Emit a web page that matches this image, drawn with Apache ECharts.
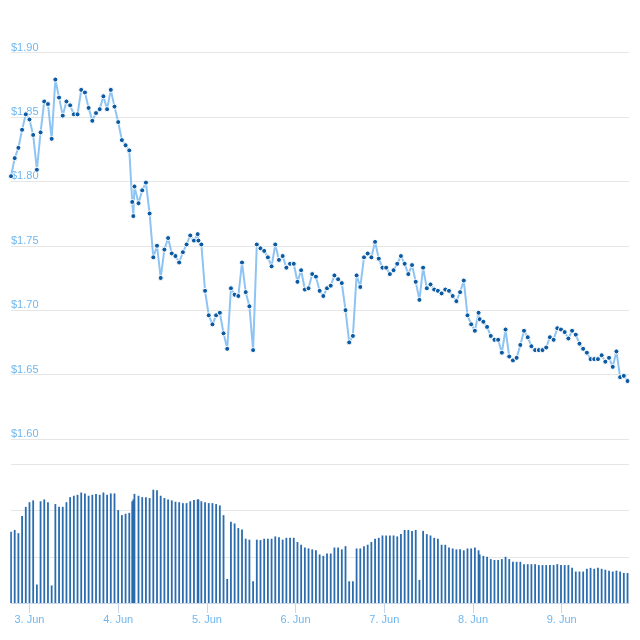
<!DOCTYPE html>
<html>
<head>
<meta charset="utf-8">
<title>Price chart</title>
<script src="https://cdn.jsdelivr.net/npm/echarts@6/dist/echarts.min.js"></script>
<style>
  html, body { margin: 0; padding: 0; background: #fff; }
  #chart { width: 640px; height: 640px; }
</style>
</head>
<body>
<div id="chart"></div>
<script>
// time of each point, in hours counted from 3 Jun 00:00
var hours = [
    -5, -4, -3, -2, -1, 0, 1, 2, 3, 4,
    5, 6, 7, 8, 9, 10, 11, 12, 13, 14,
    15, 16, 17, 18, 19, 20, 21, 22, 23, 24,
    25, 26, 27, 27.8, 28.1, 28.4, 29.5, 30.5, 31.5, 32.5,
    33.5, 34.5, 35.5, 36.5, 37.5, 38.5, 39.5, 40.5, 41.5, 42.5,
    43.5, 44.5, 45.5, 45.7, 46.5, 47.5, 48.5, 49.5, 50.5, 51.5,
    52.5, 53.5, 54.5, 55.5, 56.5, 57.5, 58.5, 59.5, 60.5, 61.5,
    62.5, 63.5, 64.5, 65.5, 66.5, 67.5, 68.5, 69.5, 70.5, 71.5,
    72.5, 73.5, 74.5, 75.5, 76.5, 77.5, 78.5, 79.5, 80.5, 81.5,
    82.5, 83.5, 84.5, 85.5, 86.5, 87.5, 88.5, 89.5, 90.5, 91.5,
    92.5, 93.5, 94.5, 95.5, 96.5, 97.5, 98.5, 99.5, 100.5, 101.5,
    102.5, 103.5, 104.5, 105.5, 106.5, 107.5, 108.5, 109.5, 110.5, 111.5,
    112.5, 113.5, 114.5, 115.5, 116.5, 117.5, 118.5, 119.5, 120.5, 121.5,
    121.8, 122.8, 123.8, 124.8, 125.8, 126.8, 127.8, 128.8, 129.8, 130.8,
    131.8, 132.8, 133.8, 134.8, 135.8, 136.8, 137.8, 138.8, 139.8, 140.8,
    141.8, 142.8, 143.8, 144.8, 145.8, 146.8, 147.8, 148.8, 149.8, 150.8,
    151.8, 152.8, 153.8, 154.8, 155.8, 156.8, 157.8, 158.8, 159.8, 160.8,
    161.8
];

// price in dollars
var prices = [
    1.804, 1.818, 1.826, 1.840, 1.852, 1.848, 1.836, 1.809, 1.838, 1.862,
    1.860, 1.833, 1.879, 1.865, 1.851, 1.862, 1.859, 1.852, 1.852, 1.871,
    1.869, 1.857, 1.847, 1.853, 1.856, 1.866, 1.856, 1.871, 1.858, 1.846,
    1.832, 1.828, 1.824, 1.784, 1.773, 1.796, 1.783, 1.793, 1.799, 1.775,
    1.741, 1.750, 1.725, 1.747, 1.756, 1.744, 1.742, 1.737, 1.745, 1.751,
    1.758, 1.754, 1.759, 1.754, 1.751, 1.715, 1.696, 1.689, 1.696, 1.698,
    1.682, 1.670, 1.717, 1.712, 1.711, 1.737, 1.714, 1.703, 1.669, 1.751,
    1.748, 1.746, 1.741, 1.734, 1.751, 1.739, 1.742, 1.733, 1.736, 1.736,
    1.722, 1.731, 1.716, 1.717, 1.728, 1.726, 1.715, 1.711, 1.717, 1.719,
    1.727, 1.724, 1.721, 1.700, 1.675, 1.680, 1.727, 1.718, 1.741, 1.744,
    1.741, 1.753, 1.740, 1.733, 1.733, 1.728, 1.731, 1.736, 1.742, 1.736,
    1.728, 1.735, 1.722, 1.708, 1.733, 1.717, 1.720, 1.716, 1.715, 1.713,
    1.716, 1.715, 1.711, 1.707, 1.714, 1.723, 1.696, 1.689, 1.684, 1.698,
    1.693, 1.691, 1.687, 1.680, 1.677, 1.677, 1.667, 1.685, 1.664, 1.661,
    1.663, 1.673, 1.684, 1.679, 1.672, 1.669, 1.669, 1.669, 1.671, 1.679,
    1.677, 1.686, 1.685, 1.683, 1.678, 1.684, 1.681, 1.674, 1.670, 1.667,
    1.662, 1.662, 1.662, 1.665, 1.660, 1.663, 1.656, 1.668, 1.648, 1.649,
    1.645
];

// traded volume (relative units)
var volumes = [
    154, 158, 151, 188, 208, 218, 222, 40, 220, 224,
    218, 38, 214, 208, 208, 218, 229, 232, 234, 239,
    237, 232, 234, 236, 234, 239, 234, 237, 237, 201,
    190, 193, 195, 220, 224, 236, 232, 229, 229, 227,
    245, 244, 232, 227, 224, 222, 219, 218, 216, 216,
    220, 223, 224, 224, 220, 218, 216, 216, 214, 211,
    190, 52, 176, 172, 162, 159, 139, 137, 47, 137,
    136, 139, 139, 139, 144, 142, 137, 141, 141, 141,
    132, 126, 120, 118, 116, 114, 105, 102, 107, 107,
    120, 120, 116, 123, 47, 47, 118, 118, 123, 126,
    132, 139, 141, 146, 146, 146, 146, 144, 149, 158,
    158, 156, 158, 50, 156, 149, 146, 141, 139, 126,
    126, 120, 118, 116, 116, 114, 118, 118, 120, 114,
    105, 102, 100, 95, 93, 93, 95, 100, 95, 89,
    89, 89, 84, 84, 84, 84, 82, 82, 82, 82,
    82, 84, 82, 82, 82, 76, 68, 68, 68, 74,
    76, 74, 76, 74, 72, 70, 68, 70, 68, 65,
    65
];

var dayTicks = [0, 24, 48, 72, 96, 120, 144];
var dayLabels = ['3. Jun', '4. Jun', '5. Jun', '6. Jun', '7. Jun', '8. Jun', '9. Jun'];

var labelColor = '#6fb7ef';
var gridColor = '#e6e6e6';
var axisColor = '#ccd6eb';

// 组装 [时间, 数值] 数据
var priceData = [];
var volumeData = [];
for (var i = 0; i < hours.length; i++) {
    priceData.push([hours[i], prices[i]]);
    volumeData.push([hours[i], volumes[i]]);
}

var myChart = echarts.init(document.getElementById('chart'));
var option = {
    animation: false,
    textStyle: { fontFamily: 'Liberation Sans, Arial, sans-serif' },
    grid: [
        { left: 11, right: 11, top: 52.5, height: 386.5 },
        { left: 11, right: 11, top: 464.3, height: 138.7 }
    ],
    xAxis: [
        {
            type: 'value', gridIndex: 0, min: -5, max: 162.2,
            axisLine: { show: false }, axisTick: { show: false },
            axisLabel: { show: false }, splitLine: { show: false }
        },
        {
            type: 'value', gridIndex: 1, min: -5, max: 162.2,
            axisLine: { show: true, lineStyle: { color: axisColor, width: 1 } },
            axisTick: { show: true, length: 10, customValues: dayTicks, lineStyle: { color: axisColor } },
            axisLabel: {
                customValues: dayTicks,
                margin: 11,
                color: labelColor,
                fontSize: 11,
                formatter: function (v) {
                    var k = dayTicks.indexOf(v);
                    return k >= 0 ? dayLabels[k] : '';
                }
            },
            splitLine: { show: false }
        }
    ],
    yAxis: [
        {
            type: 'value', gridIndex: 0, min: 1.6, max: 1.9, interval: 0.05,
            axisLine: { show: false }, axisTick: { show: false },
            axisLabel: {
                inside: true, margin: 0, color: labelColor, fontSize: 11,
                verticalAlign: 'bottom', lineHeight: 10,
                formatter: function (v) { return '$' + v.toFixed(2); }
            },
            splitLine: { lineStyle: { color: gridColor, width: 1 } }
        },
        {
            type: 'value', gridIndex: 1, min: 0, max: 300, interval: 100,
            axisLine: { show: false }, axisTick: { show: false },
            axisLabel: { show: false },
            splitLine: { lineStyle: { color: gridColor, width: 1 } }
        }
    ],
    series: [
        {
            name: 'Volume',
            type: 'bar',
            xAxisIndex: 1,
            yAxisIndex: 1,
            data: volumeData,
            barWidth: 1.8,
            itemStyle: { color: '#2a6cae' }
        },
        {
            name: 'Price',
            type: 'line',
            xAxisIndex: 0,
            yAxisIndex: 0,
            data: priceData,
            symbol: 'circle',
            symbolSize: 5,
            showAllSymbol: true,
            lineStyle: { color: '#8ec4f3', width: 2 },
            itemStyle: { color: '#0b5aa3', borderColor: '#ffffff', borderWidth: 1 }
        }
    ]
};
myChart.setOption(option);
</script>
</body>
</html>
